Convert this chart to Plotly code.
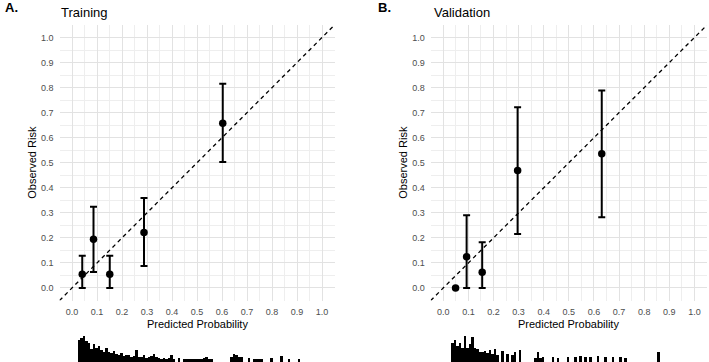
import plotly.graph_objects as go

W, H = 709, 362

# ---- data ----
train_pred = [0.041, 0.086, 0.151, 0.288, 0.603]
train_obs = [0.055, 0.195, 0.055, 0.222, 0.658]
train_lo = [0.0, 0.064, 0.0, 0.088, 0.503]
train_hi = [0.129, 0.324, 0.129, 0.359, 0.815]

valid_pred = [0.049, 0.093, 0.155, 0.296, 0.631]
valid_obs = [0.0, 0.125, 0.063, 0.469, 0.536]
valid_lo = [0.0, 0.0, 0.0, 0.216, 0.282]
valid_hi = [0.0, 0.290, 0.183, 0.722, 0.788]

diag = [-0.05, 1.05]
tick_vals = [0.0, 0.1, 0.2, 0.3, 0.4, 0.5, 0.6, 0.7, 0.8, 0.9, 1.0]
tick_text = ["0.0", "0.1", "0.2", "0.3", "0.4", "0.5", "0.6", "0.7", "0.8", "0.9", "1.0"]

train_hist_bins = [0.025, 0.035, 0.045, 0.055, 0.065, 0.075, 0.085, 0.095, 0.105, 0.115,
                   0.125, 0.135, 0.145, 0.155, 0.165, 0.175, 0.185, 0.195, 0.205, 0.215,
                   0.225, 0.235, 0.245, 0.255, 0.265, 0.275, 0.285, 0.295, 0.305, 0.315,
                   0.325, 0.335, 0.345, 0.355, 0.365, 0.375, 0.385, 0.395, 0.405, 0.425,
                   0.445, 0.455, 0.465, 0.475, 0.485, 0.495, 0.505, 0.515, 0.525, 0.535,
                   0.545, 0.555, 0.635, 0.645, 0.655, 0.665, 0.675, 0.705, 0.725, 0.735,
                   0.745, 0.755, 0.795, 0.835, 0.865, 0.905]
train_hist_counts = [22, 24, 26, 21, 19, 13, 18, 14, 16, 12,
                     10, 14, 10, 9, 11, 8, 7, 9, 6, 7,
                     7, 5, 6, 12, 5, 5, 7, 4, 5, 6,
                     8, 5, 4, 3, 4, 3, 4, 7, 3, 4,
                     3, 3, 3, 3, 3, 3, 3, 3, 4, 5,
                     3, 3, 5, 8, 7, 5, 5, 4, 3, 3,
                     3, 3, 4, 6, 3, 3]

valid_hist_bins = [0.035, 0.045, 0.055, 0.065, 0.075, 0.085, 0.095, 0.105, 0.115, 0.125,
                   0.135, 0.145, 0.155, 0.165, 0.175, 0.185, 0.195, 0.205, 0.215, 0.235,
                   0.255, 0.275, 0.285, 0.305, 0.365, 0.375, 0.385, 0.395, 0.435, 0.455,
                   0.495, 0.525, 0.545, 0.565, 0.585, 0.615, 0.645, 0.675, 0.705, 0.725,
                   0.855]
valid_hist_counts = [19, 22, 16, 19, 14, 26, 14, 18, 25, 14,
                     13, 10, 10, 11, 9, 12, 8, 13, 7, 11,
                     8, 7, 10, 12, 4, 10, 4, 5, 5, 4,
                     5, 5, 6, 5, 5, 6, 5, 5, 5, 4,
                     10]

FONT = "Liberation Sans, Arial, sans-serif"


def fx(p):
    return p / W


def fy(p):
    return 1 - p / H


fig = go.Figure()


def add_panel(pred, obs, lo, hi, xa, ya):
    fig.add_trace(go.Scatter(x=diag, y=diag, mode="lines", xaxis=xa, yaxis=ya,
                             line=dict(color="black", width=1.3, dash="4px,3.5px"),
                             hoverinfo="skip", showlegend=False))
    fig.add_trace(go.Scatter(
        x=pred, y=obs, mode="markers", xaxis=xa, yaxis=ya,
        marker=dict(color="black", size=7.5),
        error_y=dict(type="data", symmetric=False,
                     array=[h - o for h, o in zip(hi, obs)],
                     arrayminus=[o - l for o, l in zip(obs, lo)],
                     color="black", thickness=2, width=3.5),
        showlegend=False))


def add_hist(bins, counts, xa, ya):
    fig.add_trace(go.Bar(x=bins, y=counts, width=0.01, xaxis=xa, yaxis=ya,
                         marker=dict(color="black", line=dict(width=0)),
                         showlegend=False))


add_panel(train_pred, train_obs, train_lo, train_hi, "x", "y")
add_panel(valid_pred, valid_obs, valid_lo, valid_hi, "x2", "y2")
add_hist(train_hist_bins, train_hist_counts, "x3", "y3")
add_hist(valid_hist_bins, valid_hist_counts, "x4", "y4")

ydom = [fy(300.5), fy(25)]
domA = [fx(59.5), fx(334.5)]
domB = [fx(430.7), fx(707)]
HH = 30
hdom = [0, HH / H]

axis_common = dict(
    range=[-0.05, 1.05], tickvals=tick_vals, ticktext=tick_text,
    showgrid=True, gridcolor="#e2e2e2", gridwidth=1,
    minor=dict(dtick=0.05, tick0=0, showgrid=True, gridcolor="#eeeeee", gridwidth=0.7),
    zeroline=False, showline=False, ticks="",
    tickfont=dict(family=FONT, size=9, color="#4d4d4d"),
    fixedrange=True,
)

fig.update_layout(
    width=W, height=H, margin=dict(l=0, r=0, t=0, b=0),
    paper_bgcolor="white", plot_bgcolor="white", bargap=0,
    xaxis=dict(domain=domA, anchor="y", ticklabelstandoff=4, **axis_common),
    yaxis=dict(domain=ydom, anchor="x", ticklabelstandoff=5, **axis_common),
    xaxis2=dict(domain=domB, anchor="y2", ticklabelstandoff=4, **axis_common),
    yaxis2=dict(domain=ydom, anchor="x2", ticklabelstandoff=5, **axis_common),
    xaxis3=dict(domain=domA, anchor="y3", range=[-0.05, 1.05], visible=False),
    yaxis3=dict(domain=hdom, anchor="x3", range=[0, HH], visible=False),
    xaxis4=dict(domain=domB, anchor="y4", range=[-0.05, 1.05], visible=False),
    yaxis4=dict(domain=hdom, anchor="x4", range=[0, HH], visible=False),
)

annotations = [
    dict(text="<b>A.</b>", x=fx(2.5), y=fy(8), size=13),
    dict(text="Training", x=fx(59), y=fy(12.5), size=13),
    dict(text="<b>B.</b>", x=fx(376), y=fy(8), size=13),
    dict(text="Validation", x=fx(431.5), y=fy(12.5), size=13),
]
for a in annotations:
    fig.add_annotation(text=a["text"], x=a["x"], y=a["y"], xref="paper", yref="paper",
                       xanchor="left", yanchor="middle", showarrow=False,
                       font=dict(family=FONT, size=a["size"], color="black"))

for cx, cy, txt, ang in [
    ((59.5 + 334.5) / 2, 323.5, "Predicted Probability", 0),
    ((430.7 + 707) / 2, 323.5, "Predicted Probability", 0),
    (32, 162.7, "Observed Risk", -90),
    (403, 162.7, "Observed Risk", -90),
]:
    fig.add_annotation(text=txt, x=fx(cx), y=fy(cy), xref="paper", yref="paper",
                       xanchor="center", yanchor="middle", showarrow=False, textangle=ang,
                       font=dict(family=FONT, size=11, color="black"))

fig.write_html("out.html")
